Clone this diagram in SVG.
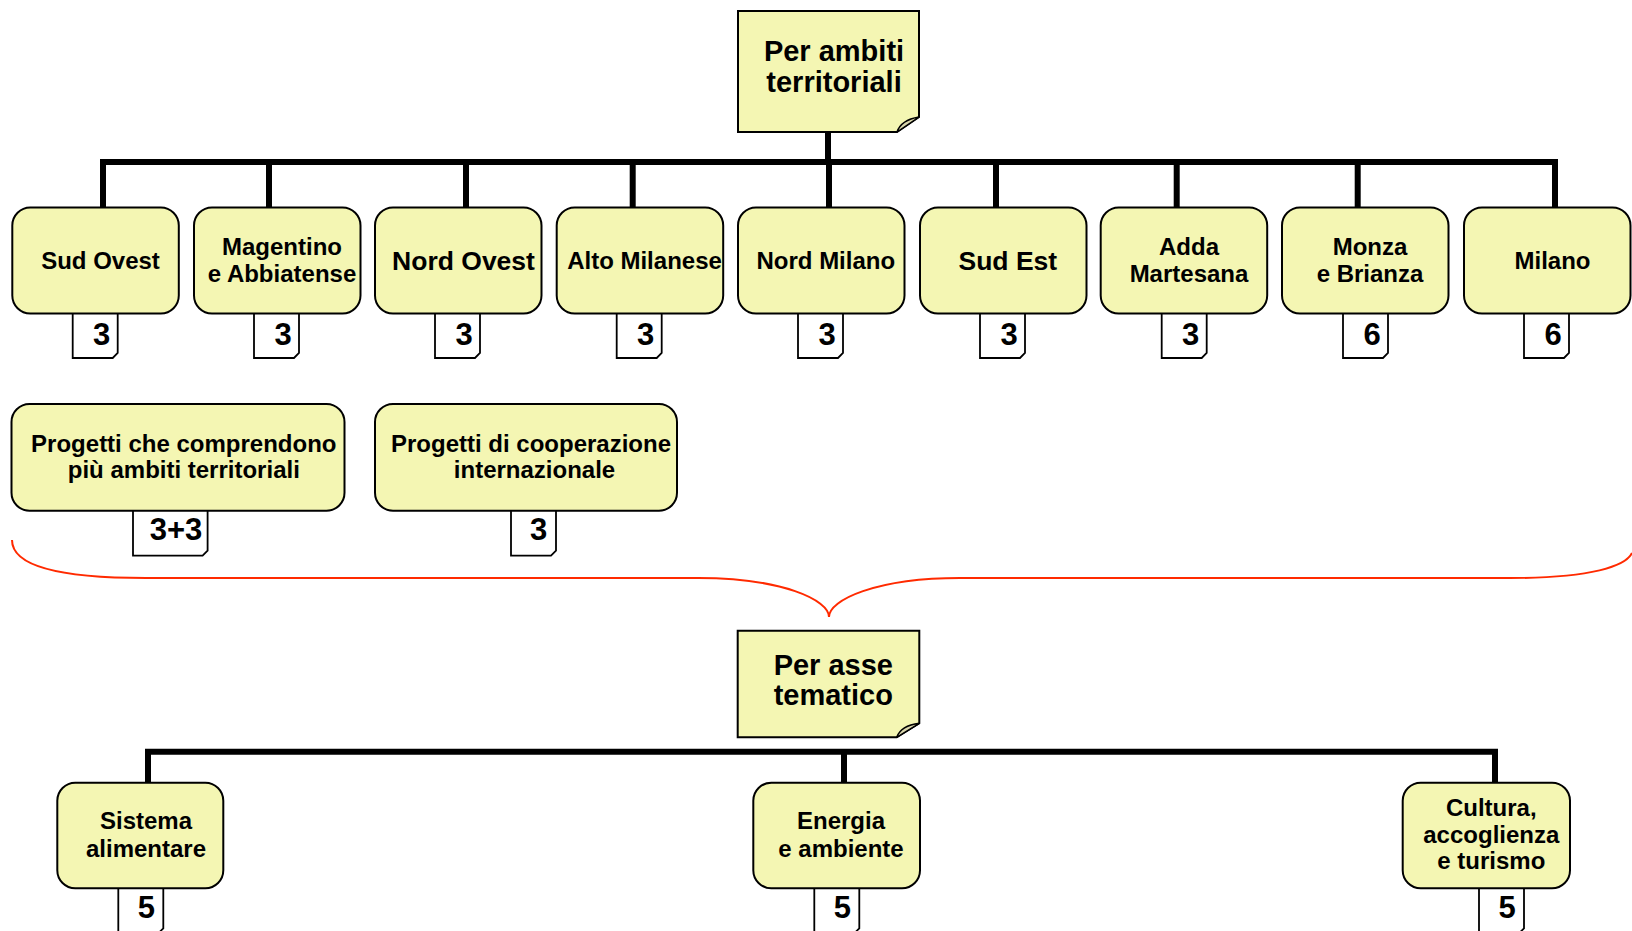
<svg xmlns="http://www.w3.org/2000/svg" width="1632" height="931" viewBox="0 0 1632 931">
<style>
.node{fill:#f4f6b3;stroke:#000;stroke-width:2}
.note{fill:#f4f6b3;stroke:#000;stroke-width:2}
.fold{fill:#d9d6ac;stroke:#000;stroke-width:1.5;stroke-linejoin:round}
.tag{fill:#fff;stroke:#000;stroke-width:1.8}
.t{font-family:"Liberation Sans",Arial,Helvetica,sans-serif;font-weight:bold;fill:#000;text-anchor:middle}
.s24{font-size:24px}
.s26{font-size:26.5px}
.s29{font-size:29px}
.num{font-size:31px}
.conn{fill:none;stroke:#000;stroke-width:6;stroke-linejoin:miter}
.brace{fill:none;stroke:#ff2a00;stroke-width:2}
</style>
<defs>
<path id="tagshape" d="M0,0 V45 H40 L45,40 V0"/>
</defs>

<g id="connectors">
<path class="conn" d="M828,132 V162"/>
<path class="conn" d="M103,208 V162 H1555 V208"/>
<path class="conn" d="M269,162 V208 M466,162 V208 M632.7,162 V208 M829,162 V208 M996,162 V208 M1176.7,162 V208 M1357.7,162 V208"/>
<path class="conn" d="M148,783 V751.7 H1495 V783"/>
<path class="conn" d="M844,751.7 V783"/>
<path class="brace" d="M12,540 C12,566 60,578 146,578 L698,578 C782,578 829,600 829,617 C829,600 876,578 960,578 L1510,578 C1592,578 1626,566 1632,553"/>
</g>

<g id="root-territoriali">
<path class="note" d="M738,11 H919 V117 L897,132 H738 Z"/>
<path class="fold" d="M897,132 Q901,120 919,117 L897,132 Z"/>
<text class="t s29" x="834" y="61">Per ambiti</text>
<text class="t s29" x="834" y="92">territoriali</text>
</g>

<g id="sud-ovest">
<use href="#tagshape" class="tag" x="72.7" y="313"/>
<rect class="node" x="12.3" y="207.5" width="166.5" height="106" rx="18"/>
<text class="t s24" x="100.5" y="269">Sud Ovest</text>
<text class="t num" x="101.7" y="345">3</text>
</g>

<g id="magentino">
<use href="#tagshape" class="tag" x="254" y="313"/>
<rect class="node" x="194" y="207.5" width="166.5" height="106" rx="18"/>
<text class="t s24" x="282" y="254.5">Magentino</text>
<text class="t s24" x="282" y="281.5">e Abbiatense</text>
<text class="t num" x="283" y="345">3</text>
</g>

<g id="nord-ovest">
<use href="#tagshape" class="tag" x="435" y="313"/>
<rect class="node" x="375" y="207.5" width="166.5" height="106" rx="18"/>
<text class="t s26" x="463.5" y="269.5">Nord Ovest</text>
<text class="t num" x="464" y="345">3</text>
</g>

<g id="alto-milanese">
<use href="#tagshape" class="tag" x="616.7" y="313"/>
<rect class="node" x="556.7" y="207.5" width="166.5" height="106" rx="18"/>
<text class="t s24" x="644.5" y="269">Alto Milanese</text>
<text class="t num" x="645.7" y="345">3</text>
</g>

<g id="nord-milano">
<use href="#tagshape" class="tag" x="798" y="313"/>
<rect class="node" x="738" y="207.5" width="166.5" height="106" rx="18"/>
<text class="t s24" x="825.8" y="269">Nord Milano</text>
<text class="t num" x="827" y="345">3</text>
</g>

<g id="sud-est">
<use href="#tagshape" class="tag" x="980" y="313"/>
<rect class="node" x="920" y="207.5" width="166.5" height="106" rx="18"/>
<text class="t s26" x="1007.8" y="269.5">Sud Est</text>
<text class="t num" x="1009" y="345">3</text>
</g>

<g id="adda-martesana">
<use href="#tagshape" class="tag" x="1161.7" y="313"/>
<rect class="node" x="1100.7" y="207.5" width="166.5" height="106" rx="18"/>
<text class="t s24" x="1189" y="254.5">Adda</text>
<text class="t s24" x="1189" y="281.5">Martesana</text>
<text class="t num" x="1190.7" y="345">3</text>
</g>

<g id="monza-brianza">
<use href="#tagshape" class="tag" x="1343" y="313"/>
<rect class="node" x="1282" y="207.5" width="166.5" height="106" rx="18"/>
<text class="t s24" x="1370" y="254.5">Monza</text>
<text class="t s24" x="1370" y="281.5">e Brianza</text>
<text class="t num" x="1372" y="345">6</text>
</g>

<g id="milano">
<use href="#tagshape" class="tag" x="1524" y="313"/>
<rect class="node" x="1464" y="207.5" width="166.5" height="106" rx="18"/>
<text class="t s24" x="1552.5" y="269">Milano</text>
<text class="t num" x="1553" y="345">6</text>
</g>

<g id="piu-ambiti">
<path class="tag" d="M133,510.7 V555.7 H202.6 L207.6,550.7 V510.7"/>
<rect class="node" x="11.5" y="404" width="333" height="106.7" rx="18"/>
<text class="t s24" x="183.8" y="451.7">Progetti che comprendono</text>
<text class="t s24" x="183.8" y="478.3">più ambiti territoriali</text>
<text class="t num" x="176" y="540">3+3</text>
</g>

<g id="cooperazione">
<use href="#tagshape" class="tag" x="511" y="510.7"/>
<rect class="node" x="375" y="404" width="302" height="106.7" rx="18"/>
<text class="t s24" x="531" y="451.7">Progetti di cooperazione</text>
<text class="t s24" x="534.5" y="478.3">internazionale</text>
<text class="t num" x="538.5" y="540">3</text>
</g>

<g id="root-tematico">
<path class="note" d="M737.7,630.7 H919.3 V723.3 L896.7,737.3 H737.7 Z"/>
<path class="fold" d="M896.7,737.3 Q901,725.5 919.3,723.3 L896.7,737.3 Z"/>
<text class="t s29" x="833.3" y="675">Per asse</text>
<text class="t s29" x="833.3" y="705">tematico</text>
</g>

<g id="sistema-alimentare">
<use href="#tagshape" class="tag" x="118.3" y="888.3"/>
<rect class="node" x="57.3" y="782.7" width="166" height="105.6" rx="18"/>
<text class="t s24" x="146" y="829.3">Sistema</text>
<text class="t s24" x="146" y="856.7">alimentare</text>
<text class="t num" x="146.3" y="918.3">5</text>
</g>

<g id="energia-ambiente">
<use href="#tagshape" class="tag" x="814.3" y="888.3"/>
<rect class="node" x="753.3" y="782.7" width="166.7" height="105.6" rx="18"/>
<text class="t s24" x="841" y="829.3">Energia</text>
<text class="t s24" x="841" y="856.7">e ambiente</text>
<text class="t num" x="842.3" y="918.3">5</text>
</g>

<g id="cultura-turismo">
<use href="#tagshape" class="tag" x="1479" y="888.3"/>
<rect class="node" x="1402.7" y="782.7" width="167.3" height="105.6" rx="18"/>
<text class="t s24" x="1491.3" y="816">Cultura,</text>
<text class="t s24" x="1491.3" y="842.5">accoglienza</text>
<text class="t s24" x="1491.3" y="869">e turismo</text>
<text class="t num" x="1507" y="918.3">5</text>
</g>
</svg>
